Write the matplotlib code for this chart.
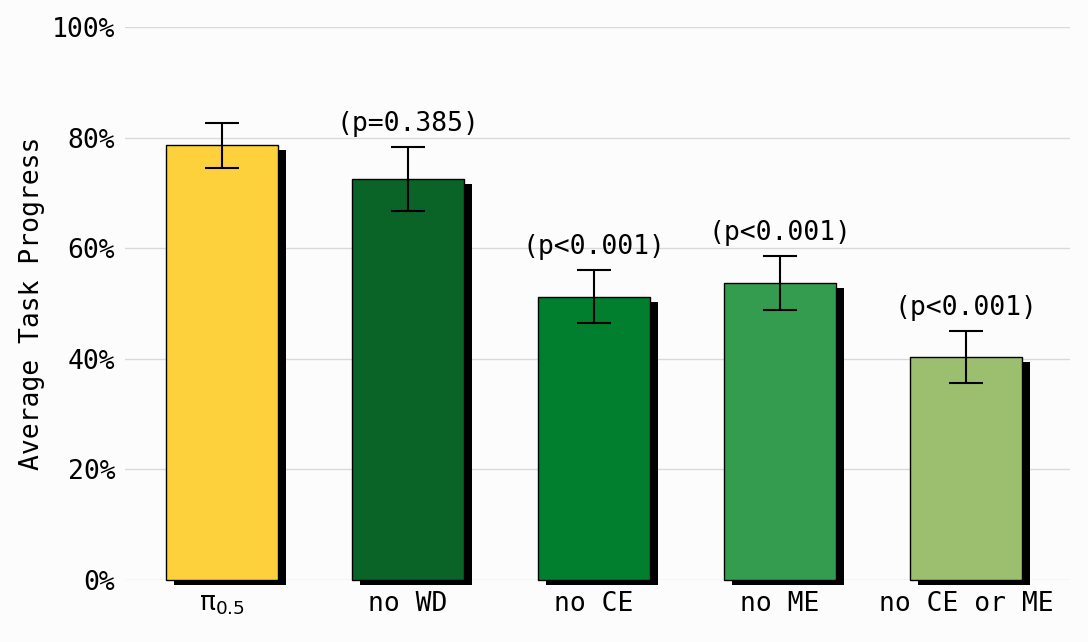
import matplotlib.pyplot as plt
import matplotlib.patheffects as pe
from matplotlib.ticker import PercentFormatter

labels = ['π$_{0.5}$', 'no WD', 'no CE', 'no ME', 'no CE or ME']
means = [78.7, 72.5, 51.2, 53.7, 40.3]
err_lo = [74.5, 66.7, 46.5, 48.8, 35.6]
err_hi = [82.6, 78.3, 56.1, 58.6, 45.0]
pvals = [None, '(p=0.385)', '(p<0.001)', '(p<0.001)', '(p<0.001)']
colors = ['#fdd13b', '#0a6327', '#017f2e', '#339c4e', '#9bbe6f']

plt.rcParams['font.family'] = ['DejaVu Sans Mono']
plt.rcParams['mathtext.fontset'] = 'dejavusans'

fig = plt.figure(figsize=(10.88, 6.42), dpi=100, facecolor='#fcfcfc')
ax = fig.add_axes([125 / 1088, 1 - 580 / 642, 945 / 1088, 553 / 642])
ax.set_facecolor('#fcfcfc')

x = list(range(len(labels)))
yerr = [[m - lo for m, lo in zip(means, err_lo)],
        [hi - m for m, hi in zip(means, err_hi)]]

bars = ax.bar(x, means, width=0.6, color=colors, edgecolor='black',
              linewidth=1.0, zorder=3)
for b in bars:
    b.set_path_effects([pe.SimplePatchShadow(offset=(5.8, -3.6),
                                             shadow_rgbFace='black', alpha=1.0),
                        pe.Normal()])
    b.set_clip_on(False)

ax.errorbar(x, means, yerr=yerr, fmt='none', ecolor='black',
            elinewidth=1.5, capsize=12, capthick=1.5, zorder=4)

for xi, hi, p in zip(x, err_hi, pvals):
    if p:
        ax.annotate(p, (xi, hi), xytext=(0, 7), textcoords='offset points',
                    ha='center', va='bottom', fontsize=19)

ax.set_xlim(-0.52, 4.56)
ax.set_ylim(0, 100)
ax.set_yticks([0, 20, 40, 60, 80, 100])
ax.yaxis.set_major_formatter(PercentFormatter(decimals=0))
ax.set_xticks(x)
ax.set_xticklabels(labels)
ax.tick_params(axis='both', length=0, labelsize=19)
ax.tick_params(axis='x', pad=8)
ax.tick_params(axis='y', pad=7)
ax.grid(axis='y', color='#d9d9d9', linewidth=1.0, zorder=0)
ax.set_axisbelow(True)
for s in ax.spines.values():
    s.set_visible(False)
ax.set_ylabel('Average Task Progress', fontsize=19, labelpad=5)

fig.savefig('out.png', dpi=100, facecolor=fig.get_facecolor())
